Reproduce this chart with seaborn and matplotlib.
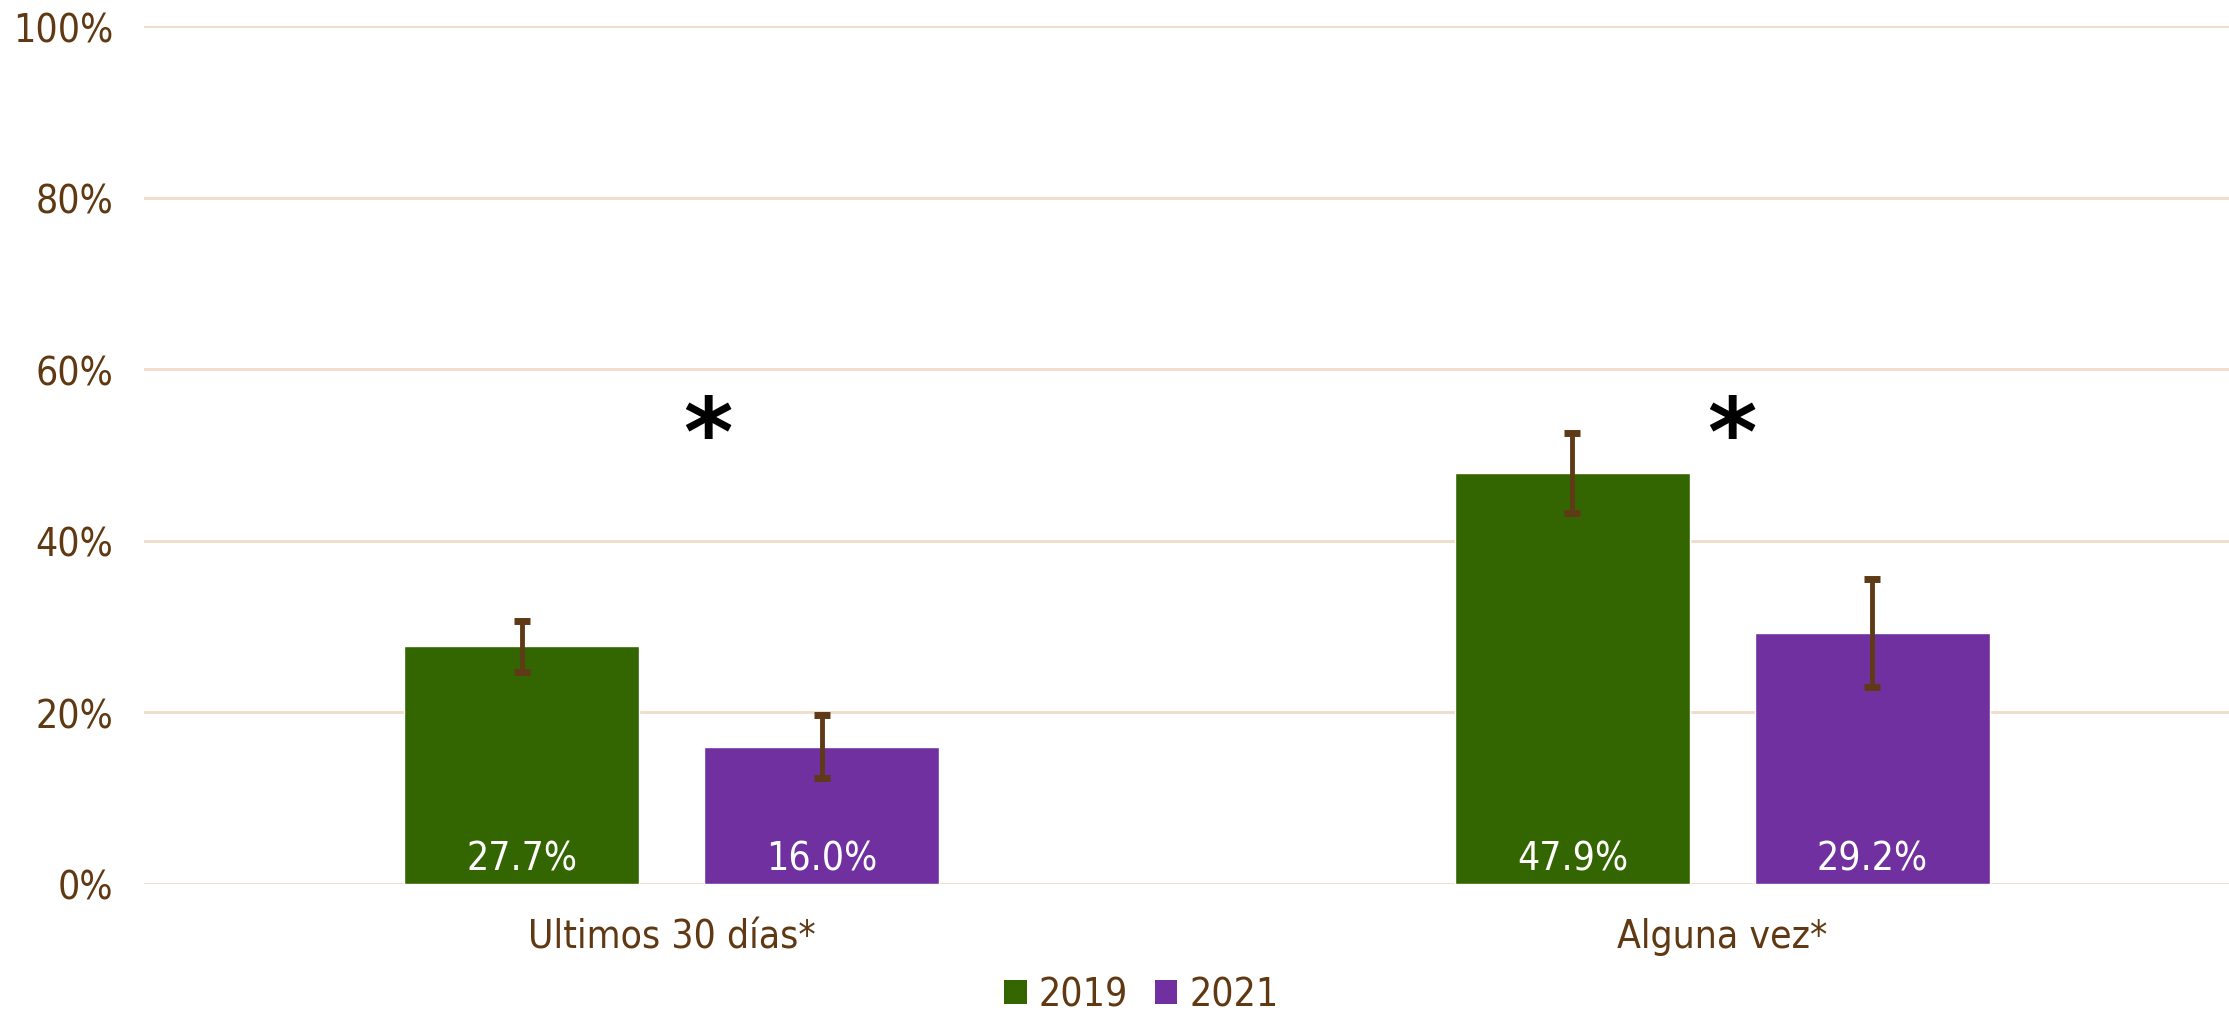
"""
Prevalence by period, 2019 vs 2021
"""

import matplotlib
matplotlib.use('Agg')
import matplotlib.pyplot as plt
import seaborn as sns
import pandas as pd
from matplotlib.patches import Patch

# Data
categories = ['Ultimos 30 días*', 'Alguna vez*']
years = ['2019', '2021']
values_2019 = [27.7, 47.9]
values_2021 = [16.0, 29.2]
err_2019 = [3.0, 4.7]
err_2021 = [3.7, 6.3]
y_ticks = [0, 20, 40, 60, 80, 100]

colors = {'2019': '#336600', '2021': '#7030A0'}
text_color = '#603913'
grid_color = '#F0DCC8'
FS = 28

df = pd.DataFrame({
    'categoria': categories * 2,
    'anio': [years[0]] * 2 + [years[1]] * 2,
    'valor': values_2019 + values_2021,
    'error': err_2019 + err_2021,
})

sns.set_style('white')
plt.rcParams['font.family'] = ['DejaVu Sans']
plt.rcParams['font.stretch'] = 'condensed'

fig = plt.figure(figsize=(22.29, 10.2), dpi=100)
ax = fig.add_axes([0.0646, 0.1324, 0.9354, 0.8411])

sns.barplot(
    data=df, x='categoria', y='valor', hue='anio',
    palette=colors, width=0.571, gap=0.214, errorbar=None,
    legend=False, ax=ax, zorder=3, saturation=1,
)

# Error bars and value labels from the drawn bars
for container, year in zip(ax.containers, years):
    sub = df[df['anio'] == year]
    for bar, val, err in zip(container, sub['valor'], sub['error']):
        cx = bar.get_x() + bar.get_width() / 2
        ax.errorbar(cx, val, yerr=err, fmt='none', ecolor='#5E3A17',
                    elinewidth=3.5, capsize=5.5, capthick=5, zorder=4)
        ax.text(cx, 1.7, f'{val:.1f}%', ha='center', va='baseline',
                color='white', fontsize=FS, zorder=5)

# Significance marks
ax.text(0.035, 49, '*', ha='center', va='baseline', fontsize=68,
        fontweight='bold', color='black', fontstretch='normal')
ax.text(1.009, 49, '*', ha='center', va='baseline', fontsize=68,
        fontweight='bold', color='black', fontstretch='normal')

ax.set_ylim(0, 100)
ax.set_xlim(-0.502, 1.482)
ax.set_yticks(y_ticks)
ax.set_yticklabels([f'{t}%' for t in y_ticks])
ax.yaxis.grid(True, color=grid_color, linewidth=2, zorder=0)
ax.set_axisbelow(True)
ax.tick_params(axis='both', length=0, labelsize=FS, labelcolor=text_color)
ax.tick_params(axis='y', pad=22)
ax.tick_params(axis='x', pad=24)
ax.set_xlabel('')
ax.set_ylabel('')
for s in ax.spines.values():
    s.set_visible(False)

handles = [Patch(facecolor=colors[y], edgecolor='none', label=y) for y in years]
leg = fig.legend(handles=handles, loc='center', bbox_to_anchor=(0.512, 0.024),
                 ncol=2, frameon=False, fontsize=FS, handlelength=0.58,
                 handleheight=0.58, handletextpad=0.3, columnspacing=0.7,
                 borderpad=0.2)
for t in leg.get_texts():
    t.set_color(text_color)

fig.savefig('out.png', dpi=100)
